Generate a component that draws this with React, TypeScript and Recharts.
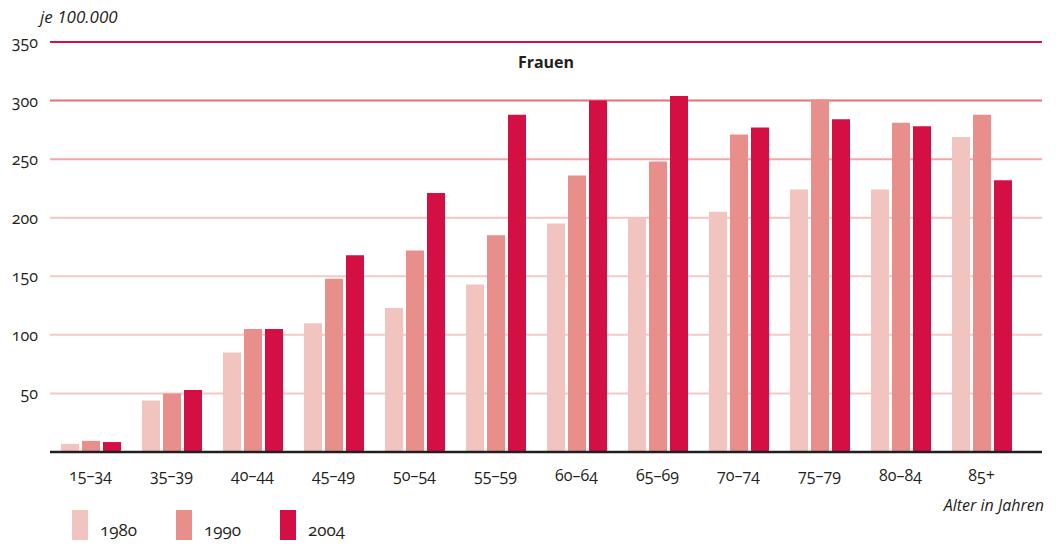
import React from "react"
import { BarChart, Bar, XAxis, YAxis, CartesianGrid } from "recharts"

const AGE_GROUPS = ["15–34", "35–39", "40–44", "45–49", "50–54", "55–59", "60–64", "65–69", "70–74", "75–79", "80–84", "85+"]
const RATE_1980 = [7, 44, 85, 110, 123, 143, 195, 200, 205, 224, 224, 269]
const RATE_1990 = [9.5, 50, 105, 148, 172, 185, 236, 248, 271, 301, 281, 288]
const RATE_2004 = [8.5, 53, 105, 168, 221, 288, 300, 304, 277, 284, 278, 232]
const Y_TICKS = [50, 100, 150, 200, 250, 300, 350]

const SERIES = [
  { key: "y1980", label: "1980", color: "#f2c4bf" },
  { key: "y1990", label: "1990", color: "#e88f8c" },
  { key: "y2004", label: "2004", color: "#d40f44" },
]
// gridline colours, bottom to top
const GRID_COLORS = ["#f5cac5", "#f5cac5", "#f5cac5", "#f5c4bf", "#f0a9a8", "#e07378", "#d40f44"]

const FONT = "'Open Sans', 'DejaVu Sans', sans-serif"
const OLDSTYLE = { fontVariantNumeric: "oldstyle-nums", fontFeatureSettings: '"onum"' } as const

const data = AGE_GROUPS.map((age, i) => ({
  age,
  y1980: RATE_1980[i],
  y1990: RATE_1990[i],
  y2004: RATE_2004[i],
}))

const gridLine = (props: any) => {
  const idx = props.index ?? 0
  return (
    <line
      key={`grid-${idx}`}
      x1={props.x1}
      x2={props.x2}
      y1={props.y1}
      y2={props.y2}
      stroke={GRID_COLORS[idx] || "#f5cac5"}
      strokeWidth={2}
    />
  )
}

// svg tick text with old-style figures
const makeTick = (anchor: "end" | "middle") => (props: any) => {
  const { x, y, payload } = props
  return (
    <text
      x={x}
      y={y}
      textAnchor={anchor}
      dominantBaseline={anchor === "end" ? "central" : "hanging"}
      fontSize={16}
      fill="#231f20"
      fontFamily={FONT}
      style={OLDSTYLE}
    >
      {payload.value}
    </text>
  )
}

export default function App() {
  return (
    <div style={{ position: "absolute", left: 0, top: 0, width: 1056, height: 546, background: "#fff", fontFamily: FONT }}>
      <BarChart
        width={1056}
        height={546}
        data={data}
        margin={{ top: 42, right: 14, bottom: 0, left: 0 }}
        barSize={18}
        barGap={3}
      >
        <CartesianGrid vertical={false} horizontal={gridLine} />
        <YAxis
          domain={[0, 350]}
          ticks={Y_TICKS}
          width={50}
          axisLine={false}
          tickLine={false}
          tickMargin={6}
          tick={makeTick("end")}
        />
        <XAxis
          dataKey="age"
          height={94}
          padding={{ left: 0, right: 20 }}
          axisLine={{ stroke: "#231f20", strokeWidth: 2.5 }}
          tickLine={false}
          tickMargin={9}
          tick={makeTick("middle")}
          interval={0}
        />
        {SERIES.map((s) => (
          <Bar key={s.key} dataKey={s.key} fill={s.color} isAnimationActive={false} />
        ))}
      </BarChart>

      <div style={{ position: "absolute", left: 40, top: 5, fontSize: 17, fontStyle: "italic", color: "#231f20" }}>
        je 100.000
      </div>
      <div style={{ position: "absolute", left: 446, width: 200, top: 51, textAlign: "center", fontSize: 16, fontWeight: 700, color: "#231f20" }}>
        Frauen
      </div>
      <div style={{ position: "absolute", right: 12, top: 494, fontSize: 16, fontStyle: "italic", color: "#231f20" }}>
        Alter in Jahren
      </div>

      {SERIES.map((s, i) => (
        <div key={s.key} style={{ position: "absolute", left: 72 + i * 104, top: 510, display: "flex", alignItems: "flex-end" }}>
          <div style={{ width: 16, height: 30, background: s.color }} />
          <span style={{ marginLeft: 12, fontSize: 17, lineHeight: "20px", color: "#231f20", ...OLDSTYLE }}>
            {s.label}
          </span>
        </div>
      ))}
    </div>
  )
}
